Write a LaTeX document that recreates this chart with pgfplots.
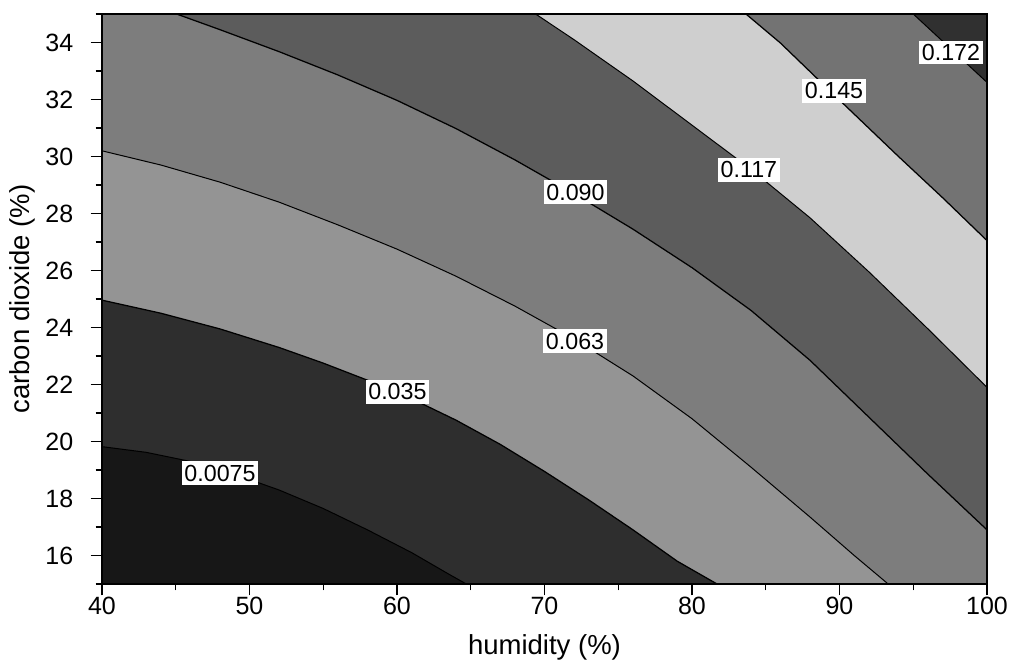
\documentclass[border=0pt]{standalone}
\usepackage{fontspec}
\setmainfont{Liberation Sans}
\usepackage{pgfplots}
\pgfplotsset{compat=1.18}
\usetikzlibrary{calc}

% grey levels of the bands, lowest to highest
\definecolor{r0}{gray}{0.09}
\definecolor{r1}{gray}{0.18}
\definecolor{r2}{gray}{0.58}
\definecolor{r3}{gray}{0.49}
\definecolor{r4}{gray}{0.36}
\definecolor{r5}{gray}{0.81}
\definecolor{r6}{gray}{0.45}
\definecolor{r7}{gray}{0.19}

\begin{document}
\begin{tikzpicture}
\begin{axis}[
    width=354pt, height=228pt, scale only axis,
    xmin=40, xmax=100, ymin=15, ymax=35,
    xtick={40,50,...,100}, minor xtick={45,55,...,95},
    ytick={16,18,...,34}, minor ytick={15,17,...,35},
    xtick pos=left, ytick pos=left,
    tick align=outside,
    major tick length=4.5pt, minor tick length=2.5pt,
    tick style={black, line width=0.5pt},
    axis line style={line width=0.5pt},
    axis on top,
    /pgf/number format/assume math mode=true,
    tick label style={font=\fontsize{10}{12}\selectfont},
    xticklabel style={anchor=north, yshift=3pt},
    yticklabel style={anchor=east, xshift=-3.5pt},
    xlabel={humidity (\%)},
    ylabel={carbon dioxide (\%)},
    label style={font=\fontsize{11}{13}\selectfont},
    xlabel style={at={(axis description cs:0.5,-0.112)}, anchor=center},
    ylabel style={at={(axis description cs:-0.09,0.5)}, anchor=center},
  ]
% filled bands (superlevel sets painted from low to high)
\addplot[fill=r0, draw=none] coordinates {(40,15)(100,15)(100,35)(40,35)};
\addplot[fill=r1, draw=none] coordinates {
  (40,19.82)(43,19.62)(46,19.3)(49,18.85)(52,18.3)(55,17.65)(58,16.9)(61,16.1)(63.5,15.35)(64.7,15)
  (100,15)(100,35)(40,35)};
\addplot[fill=r2, draw=none] coordinates {
  (40,24.96)(44,24.5)(48,23.95)(52,23.3)(55,22.75)(58,22.15)(61,21.5)(64,20.75)(67,19.9)(70,18.95)(73,17.95)(76,16.9)(79,15.8)(81.7,15)
  (100,15)(100,35)(40,35)};
\addplot[fill=r3, draw=none] coordinates {
  (40,30.2)(44,29.7)(48,29.1)(52,28.4)(56,27.6)(60,26.75)(64,25.8)(68,24.75)(72,23.6)(76,22.3)(80,20.8)(84,19.1)(88,17.35)(91,16.0)(93.3,15)
  (100,15)(100,35)(40,35)};
\addplot[fill=r4, draw=none] coordinates {
  (45.06,35)(48,34.45)(52,33.68)(56,32.86)(60,31.97)(64,30.98)(68,29.88)(72,28.7)(76,27.45)(80,26.1)(84,24.6)(88,22.85)(92,20.85)(96,18.85)(100,16.9)
  (100,35)};
\addplot[fill=r5, draw=none] coordinates {
  (69.4,35)(72,34.1)(76,32.65)(80,31.1)(84,29.55)(88,27.85)(92,25.95)(96,23.95)(100,21.9)
  (100,35)};
\addplot[fill=r6, draw=none] coordinates {
  (83.66,35)(86,33.98)(90,31.98)(94,30.0)(97,28.55)(100,27.05)
  (100,35)};
\addplot[fill=r7, draw=none] coordinates {
  (95,35)(97.5,33.8)(100,32.6)
  (100,35)};

% contour lines
\pgfplotsset{cycle list={{black, line width=0.5pt}}}
\addplot coordinates {(40,19.82)(43,19.62)(46,19.3)(49,18.85)(52,18.3)(55,17.65)(58,16.9)(61,16.1)(63.5,15.35)(64.7,15)};
\addplot coordinates {(40,24.96)(44,24.5)(48,23.95)(52,23.3)(55,22.75)(58,22.15)(61,21.5)(64,20.75)(67,19.9)(70,18.95)(73,17.95)(76,16.9)(79,15.8)(81.7,15)};
\addplot coordinates {(40,30.2)(44,29.7)(48,29.1)(52,28.4)(56,27.6)(60,26.75)(64,25.8)(68,24.75)(72,23.6)(76,22.3)(80,20.8)(84,19.1)(88,17.35)(91,16.0)(93.3,15)};
\addplot coordinates {(45.06,35)(48,34.45)(52,33.68)(56,32.86)(60,31.97)(64,30.98)(68,29.88)(72,28.7)(76,27.45)(80,26.1)(84,24.6)(88,22.85)(92,20.85)(96,18.85)(100,16.9)};
\addplot coordinates {(69.4,35)(72,34.1)(76,32.65)(80,31.1)(84,29.55)(88,27.85)(92,25.95)(96,23.95)(100,21.9)};
\addplot coordinates {(83.66,35)(86,33.98)(90,31.98)(94,30.0)(97,28.55)(100,27.05)};
\addplot coordinates {(95,35)(97.5,33.8)(100,32.6)};

% level labels
\tikzset{lvl/.style={fill=white, inner xsep=1pt, inner ysep=1.5pt, font=\fontsize{9.3}{11}\selectfont}}
\node[lvl] at (axis cs:48.0,18.88) {0.0075};
\node[lvl] at (axis cs:60.03,21.75) {0.035};
\node[lvl] at (axis cs:72.07,23.51) {0.063};
\node[lvl] at (axis cs:72.1,28.74) {0.090};
\node[lvl] at (axis cs:83.86,29.53) {0.117};
\node[lvl] at (axis cs:89.63,32.3) {0.145};
\node[lvl] at (axis cs:97.56,33.65) {0.172};
\end{axis}
\pgfresetboundingbox
\path ($(current axis.south west)+(-40.8pt,-30pt)$) rectangle ($(current axis.north east)+(9.6pt,5.6pt)$);
\end{tikzpicture}
\end{document}
